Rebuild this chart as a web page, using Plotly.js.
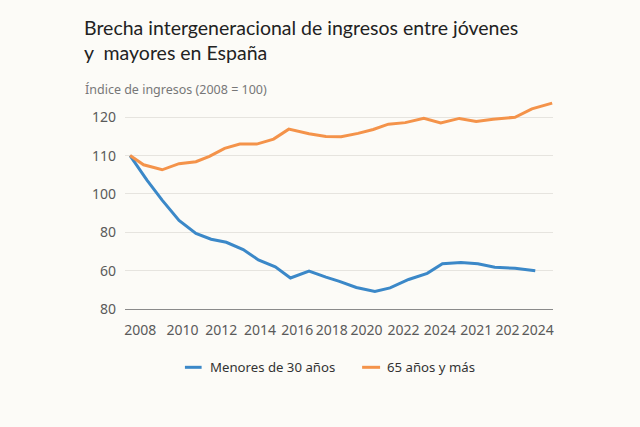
<!DOCTYPE html>
<html>
<head>
<meta charset="utf-8">
<script src="https://cdn.plot.ly/plotly-3.0.1.min.js"></script>
<style>
  html, body { margin: 0; padding: 0; background: #fcfbf7; }
  #chart { width: 640px; height: 427px; }
</style>
</head>
<body>
<div id="chart"></div>
<script>
"use strict";

// Series (x = observation position read along the time axis, y = index)
const seriesNames = ['Menores de 30 años', '65 años y más'];
const seriesColors = ['#3b88c8', '#f4934a'];

const jovenesX = [0, 1.0, 1.9, 2.9, 3.9, 4.8, 5.7, 6.7, 7.6, 8.6, 9.5, 10.6, 11.6,
                  12.4, 13.4, 14.5, 15.4, 16.5, 17.6, 18.5, 19.6, 20.6, 21.6, 22.8, 24.0];
const jovenesY = [110, 103.6, 98.4, 93.1, 89.7, 88.2, 87.4, 85.5, 82.8, 81.0, 78.1, 79.9, 78.3,
                  77.2, 75.6, 74.6, 75.5, 77.7, 79.3, 81.8, 82.1, 81.8, 80.9, 80.6, 80.0];

const mayoresX = [0, 0.8, 1.9, 2.9, 3.9, 4.7, 5.6, 6.5, 7.5, 8.5, 9.4, 10.6, 11.6,
                  12.5, 13.5, 14.4, 15.3, 16.3, 17.4, 18.4, 19.5, 20.5, 21.5, 22.8, 23.8, 25.0];
const mayoresY = [110, 107.6, 106.3, 107.9, 108.4, 109.8, 111.9, 113.0, 113.0, 114.3, 116.9, 115.7, 115.0,
                  114.9, 115.8, 116.8, 118.2, 118.6, 119.7, 118.5, 119.7, 118.9, 119.5, 120.0, 122.2, 123.7];

// Tick labels as printed on the original
const xTickVals = [0.6, 3.1, 5.4, 7.7, 9.9, 11.95, 14.0, 16.2, 18.35, 20.5, 22.35, 24.15];
const xTickText = ['2008', '2010', '2012', '2014', '2016', '2018', '2020', '2022', '2024', '2021', '202', '2024'];
const yTickVals = [70, 80, 90, 100, 110, 120];
const yTickText = ['80', '60', '80', '100', '110', '120'];

const fontFamily = '"Noto Sans", "Open Sans", sans-serif';
const titleFamily = 'Lato, "Noto Sans", sans-serif';

const traces = [
    { x: jovenesX, y: jovenesY, name: seriesNames[0], type: 'scatter', mode: 'lines',
      line: { color: seriesColors[0], width: 3 } },
    { x: mayoresX, y: mayoresY, name: seriesNames[1], type: 'scatter', mode: 'lines',
      line: { color: seriesColors[1], width: 3 } }
];

// legend drawn below the plot: short line sample + label, in paper units
const legendY = -0.279;
const legendItems = [
    { x0: 0.140, x1: 0.179, tx: 0.194 },
    { x0: 0.554, x1: 0.596, tx: 0.608 }
];

const legendShapes = legendItems.map((it, i) => ({
    type: 'line', xref: 'paper', yref: 'paper',
    x0: it.x0, x1: it.x1, y0: legendY, y1: legendY,
    line: { color: seriesColors[i], width: 3 }
}));

const legendLabels = legendItems.map((it, i) => ({
    text: seriesNames[i], xref: 'paper', yref: 'paper',
    x: it.tx, y: legendY, xanchor: 'left', yanchor: 'middle', showarrow: false,
    font: { family: fontFamily, size: 13.2, color: '#333' }
}));

const layout = {
    width: 640,
    height: 427,
    paper_bgcolor: '#fcfbf7',
    plot_bgcolor: '#fcfbf7',
    font: { family: fontFamily, color: '#555', size: 14 },
    margin: { l: 125, r: 87, t: 100, b: 118 },
    title: {
        text: 'Brecha intergeneracional de ingresos entre jóvenes<br>y  mayores en España',
        font: { family: titleFamily, size: 19.5, color: '#222' },
        x: 84 / 640, xanchor: 'left', xref: 'container',
        y: 1 - 35 / 427, yanchor: 'top', yref: 'container'
    },
    annotations: [{
        text: 'Índice de ingresos (2008 = 100)',
        xref: 'paper', yref: 'paper', x: -42 / 428, y: 1 + 0 / 209,
        xanchor: 'left', yanchor: 'bottom', showarrow: false,
        font: { family: fontFamily, size: 12.5, color: '#777' }
    }, ...legendLabels],
    shapes: legendShapes,
    xaxis: {
        range: [-0.3, 25.05],
        tickvals: xTickVals, ticktext: xTickText,
        showgrid: false, zeroline: false,
        showline: true, linecolor: '#8a8a8a', linewidth: 1.2,
        ticks: '', ticklabelstandoff: 8,
        tickfont: { size: 14, color: '#5a5a5a' }
    },
    yaxis: {
        range: [70, 124.5],
        tickvals: yTickVals, ticktext: yTickText,
        showgrid: true, gridcolor: '#e6e4df', gridwidth: 1,
        zeroline: false, showline: false,
        ticks: '', ticklabelstandoff: 8,
        tickfont: { size: 14, color: '#5a5a5a' }
    },
    showlegend: false
};

Plotly.newPlot('chart', traces, layout, { staticPlot: true, displayModeBar: false });
</script>
</body>
</html>
